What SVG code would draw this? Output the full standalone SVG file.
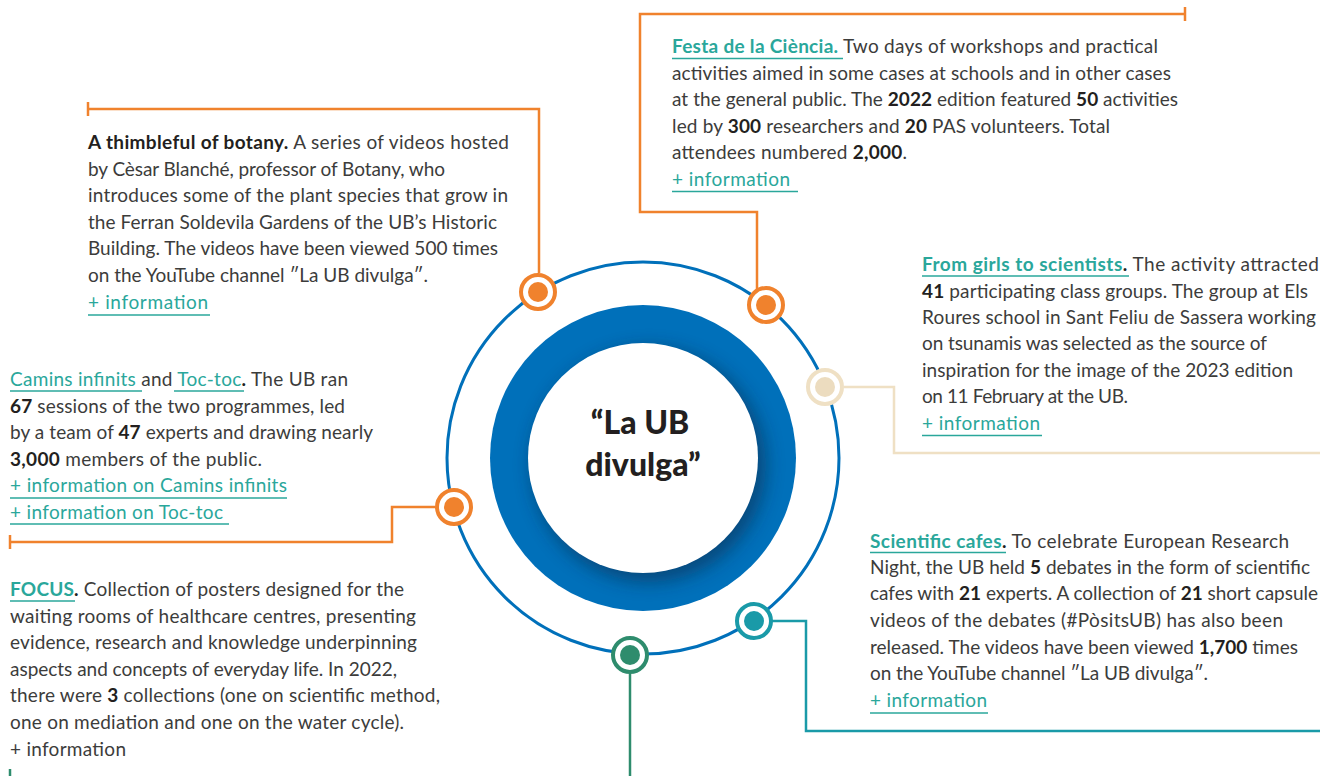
<svg xmlns="http://www.w3.org/2000/svg" width="1320" height="776" viewBox="0 0 1320 776">
<style>
.t{font-family:Lato,"Noto Sans",sans-serif;font-size:19px;fill:#3c3c3b}
.b{font-weight:700;fill:#231f20}
.l{fill:#2aa79b}
.lb{font-weight:700;fill:#2aa79b}
.ul{stroke:#2aa79b;stroke-width:1.6}
.co{fill:none;stroke-width:2.5}
.or{stroke:#f0822d}
.be{stroke:#efe0c4}
.te{stroke:#1a9aa8}
.gr{stroke:#2e8c6d}
.ring{fill:#fff;stroke-width:4}
.title{font-family:Lato,"Noto Sans",sans-serif;font-size:32px;font-weight:900;fill:#231f20}
</style>
<defs>
<clipPath id="disk"><circle cx="643" cy="458" r="153"/></clipPath>
<filter id="blur" x="-30%" y="-30%" width="160%" height="160%"><feGaussianBlur stdDeviation="9"/></filter>
</defs>

<g id="connectors">
<polyline class="co or" points="88,109 539,109 539,273"/>
<line class="co or" x1="88" y1="102" x2="88" y2="116"/>
<polyline class="co or" points="1185,14 640,14 640,212 757,212 757,289"/>
<line class="co or" x1="1185" y1="7" x2="1185" y2="21"/>
<polyline class="co be" points="844,387 894,387 894,453 1320,453"/>
<polyline class="co or" points="435,507 392,507 392,542 10,542"/>
<line class="co or" x1="10" y1="535" x2="10" y2="549"/>
<polyline class="co gr" points="630,674 630,776"/>
<line class="co gr" x1="10" y1="769" x2="10" y2="776"/>
<polyline class="co te" points="772,621 806,621 806,731 1320,731"/>
</g>

<g id="hub">
<circle cx="643" cy="458" r="196" fill="none" stroke="#0070ba" stroke-width="3"/>
<circle cx="643" cy="458" r="153" fill="#0070ba"/>
<g clip-path="url(#disk)"><circle cx="649" cy="465" r="117" fill="#0b2a4a" opacity="0.55" filter="url(#blur)"/></g>
<circle cx="643" cy="458" r="115" fill="#fff"/>
<text class="title" x="640" y="434" text-anchor="middle">“La UB</text>
<text class="title" x="643" y="476" text-anchor="middle">divulga”</text>
</g>

<g id="node-botany">
<circle class="ring or" cx="538" cy="292" r="17"/><circle cx="538" cy="292" r="10" fill="#f0822d"/>
<text class="t" x="88" y="149" textLength="421" lengthAdjust="spacing"><tspan class="b">A thimbleful of botany.</tspan> A series of videos hosted</text>
<text class="t" x="88" y="176" textLength="357" lengthAdjust="spacing">by Cèsar Blanché, professor of Botany, who</text>
<text class="t" x="88" y="202" textLength="420" lengthAdjust="spacing">introduces some of the plant species that grow in</text>
<text class="t" x="88" y="229" textLength="409" lengthAdjust="spacing">the Ferran Soldevila Gardens of the UB’s Historic</text>
<text class="t" x="88" y="255" textLength="410" lengthAdjust="spacing">Building. The videos have been viewed 500 times</text>
<text class="t" x="88" y="282" textLength="340" lengthAdjust="spacing">on the YouTube channel ″La UB divulga″.</text>
<text class="t l" x="88" y="309" textLength="120" lengthAdjust="spacing">+ information</text>
<line class="ul" x1="88" y1="315" x2="210" y2="315"/>
</g>

<g id="node-festa">
<circle class="ring or" cx="766" cy="305" r="17"/><circle cx="766" cy="305" r="10" fill="#f0822d"/>
<text class="t" x="672" y="53" textLength="486" lengthAdjust="spacing"><tspan class="lb">Festa de la Ciència.</tspan> Two days of workshops and practical</text>
<line class="ul" x1="672" y1="58.5" x2="843" y2="58.5"/>
<text class="t" x="672" y="80" textLength="499" lengthAdjust="spacing">activities aimed in some cases at schools and in other cases</text>
<text class="t" x="672" y="106" textLength="506" lengthAdjust="spacing">at the general public. The <tspan class="b">2022</tspan> edition featured <tspan class="b">50</tspan> activities</text>
<text class="t" x="672" y="133" textLength="438" lengthAdjust="spacing">led by <tspan class="b">300</tspan> researchers and <tspan class="b">20</tspan> PAS volunteers. Total</text>
<text class="t" x="672" y="159" textLength="235" lengthAdjust="spacing">attendees numbered <tspan class="b">2,000</tspan>.</text>
<text class="t l" x="672" y="186" textLength="118" lengthAdjust="spacing">+ information</text>
<line class="ul" x1="672" y1="191.5" x2="798" y2="191.5"/>
</g>

<g id="node-girls">
<circle class="ring be" cx="825" cy="387" r="17"/><circle cx="825" cy="387" r="10" fill="#ecdcbf"/>
<text class="t" x="922" y="271" textLength="397" lengthAdjust="spacing"><tspan class="lb">From girls to scientists</tspan><tspan class="b">.</tspan> The activity attracted</text>
<line class="ul" x1="922" y1="276" x2="1129" y2="276"/>
<text class="t" x="922" y="298" textLength="386" lengthAdjust="spacing"><tspan class="b">41</tspan> participating class groups. The group at Els</text>
<text class="t" x="922" y="324" textLength="394" lengthAdjust="spacing">Roures school in Sant Feliu de Sassera working</text>
<text class="t" x="922" y="350" textLength="345" lengthAdjust="spacing">on tsunamis was selected as the source of</text>
<text class="t" x="922" y="377" textLength="371" lengthAdjust="spacing">inspiration for the image of the 2023 edition</text>
<text class="t" x="922" y="403" textLength="206" lengthAdjust="spacing">on 11 February at the UB.</text>
<text class="t l" x="922" y="430" textLength="118" lengthAdjust="spacing">+ information</text>
<line class="ul" x1="922" y1="435.5" x2="1042" y2="435.5"/>
</g>

<g id="node-camins">
<circle class="ring or" cx="454" cy="507" r="17"/><circle cx="454" cy="507" r="10" fill="#f0822d"/>
<text class="t" x="10" y="386" textLength="338" lengthAdjust="spacing"><tspan class="l">Camins infinits </tspan>and <tspan class="l">Toc-toc</tspan><tspan class="b">.</tspan> The UB ran</text>
<line class="ul" x1="10" y1="391" x2="142" y2="391"/>
<line class="ul" x1="174" y1="391" x2="244" y2="391"/>
<text class="t" x="10" y="413" textLength="335" lengthAdjust="spacing"><tspan class="b">67</tspan> sessions of the two programmes, led</text>
<text class="t" x="10" y="439" textLength="363" lengthAdjust="spacing">by a team of <tspan class="b">47</tspan> experts and drawing nearly</text>
<text class="t" x="10" y="466" textLength="252" lengthAdjust="spacing"><tspan class="b">3,000</tspan> members of the public.</text>
<text class="t l" x="10" y="492" textLength="277" lengthAdjust="spacing">+ information on Camins infinits</text>
<line class="ul" x1="10" y1="498" x2="287" y2="498"/>
<text class="t l" x="10" y="519" textLength="213" lengthAdjust="spacing">+ information on Toc-toc</text>
<line class="ul" x1="10" y1="524" x2="229" y2="524"/>
</g>

<g id="node-focus">
<circle class="ring gr" cx="630" cy="655" r="17"/><circle cx="630" cy="655" r="10" fill="#2e8c6d"/>
<text class="t" x="10" y="596" textLength="394" lengthAdjust="spacing"><tspan class="lb">FOCUS</tspan><tspan class="b">.</tspan> Collection of posters designed for the</text>
<line class="ul" x1="10" y1="601" x2="75" y2="601"/>
<text class="t" x="10" y="623" textLength="406" lengthAdjust="spacing">waiting rooms of healthcare centres, presenting</text>
<text class="t" x="10" y="649" textLength="407" lengthAdjust="spacing">evidence, research and knowledge underpinning</text>
<text class="t" x="10" y="676" textLength="387" lengthAdjust="spacing">aspects and concepts of everyday life. In 2022,</text>
<text class="t" x="10" y="702" textLength="430" lengthAdjust="spacing">there were <tspan class="b">3</tspan> collections (one on scientific method,</text>
<text class="t" x="10" y="729" textLength="394" lengthAdjust="spacing">one on mediation and one on the water cycle).</text>
<text class="t" x="10" y="756" textLength="116" lengthAdjust="spacing">+ information</text>
</g>

<g id="node-cafes">
<circle class="ring te" cx="754" cy="621" r="17"/><circle cx="754" cy="621" r="10" fill="#1a9aa8"/>
<text class="t" x="870" y="548" textLength="419" lengthAdjust="spacing"><tspan class="lb">Scientific cafes</tspan><tspan class="b">.</tspan> To celebrate European Research</text>
<line class="ul" x1="870" y1="552.5" x2="1006" y2="552.5"/>
<text class="t" x="870" y="574" textLength="440" lengthAdjust="spacing">Night, the UB held <tspan class="b">5</tspan> debates in the form of scientific</text>
<text class="t" x="870" y="600" textLength="448" lengthAdjust="spacing">cafes with <tspan class="b">21</tspan> experts. A collection of <tspan class="b">21</tspan> short capsule</text>
<text class="t" x="870" y="627" textLength="413" lengthAdjust="spacing">videos of the debates (#PòsitsUB) has also been</text>
<text class="t" x="870" y="654" textLength="428" lengthAdjust="spacing">released. The videos have been viewed <tspan class="b">1,700</tspan> times</text>
<text class="t" x="870" y="680" textLength="338" lengthAdjust="spacing">on the YouTube channel ″La UB divulga″.</text>
<text class="t l" x="870" y="707" textLength="117" lengthAdjust="spacing">+ information</text>
<line class="ul" x1="870" y1="713" x2="988" y2="713"/>
</g>
</svg>
